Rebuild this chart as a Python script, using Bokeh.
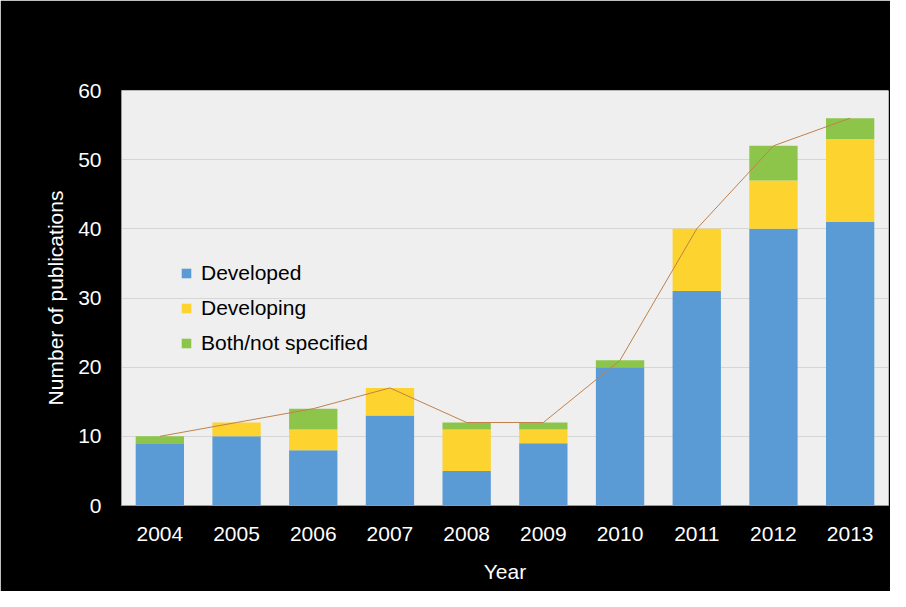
from bokeh.plotting import figure
from bokeh.models import FactorRange, Range1d, Legend, LegendItem, FixedTicker, ColumnDataSource
from bokeh.embed import file_html
from bokeh.resources import INLINE

years = ["2004", "2005", "2006", "2007", "2008", "2009", "2010", "2011", "2012", "2013"]
developed = [9, 10, 8, 13, 5, 9, 20, 31, 40, 41]
developing = [0, 2, 3, 4, 6, 2, 0, 9, 7, 12]
both = [1, 0, 3, 0, 1, 1, 1, 0, 5, 3]
totals = [10, 12, 14, 17, 12, 12, 21, 40, 52, 56]
y_ticks = [0, 10, 20, 30, 40, 50, 60]

series = ["developed", "developing", "both"]
labels = ["Developed", "Developing", "Both/not specified"]
colors = ["#5b9bd5", "#fdd32f", "#8dc54a"]

src = ColumnDataSource(dict(years=years, developed=developed, developing=developing,
                            both=both, totals=totals))

FONT = "Liberation Sans"

p = figure(width=890, height=591, x_range=FactorRange(*years, range_padding=0),
           y_range=Range1d(0, 60), output_backend="svg", toolbar_location=None,
           min_border_left=121, min_border_right=2, min_border_top=90, min_border_bottom=86)

p.background_fill_color = "#efefef"
p.border_fill_color = "#000000"
p.outline_line_color = None

renderers = p.vbar_stack(series, x="years", width=0.63, color=colors, source=src, line_color=None)
p.line(x="years", y="totals", source=src, line_color="#c0814a", line_width=1)

legend = Legend(items=[LegendItem(label=l, renderers=[r]) for l, r in zip(labels, renderers)],
                location=(59, 150), background_fill_alpha=0, border_line_color=None,
                label_text_font=FONT, label_text_font_size="21px", label_text_color="#000000",
                glyph_width=12, glyph_height=12, label_height=20, spacing=11,
                padding=5, margin=0, label_standoff=9)
p.add_layout(legend)

p.xgrid.grid_line_color = None
p.ygrid.grid_line_color = "#d6d6d6"
p.ygrid.ticker = FixedTicker(ticks=y_ticks)
p.yaxis.ticker = FixedTicker(ticks=y_ticks)

for ax in (p.xaxis[0], p.yaxis[0]):
    ax.axis_line_color = "#9a9a9a"
    ax.major_tick_line_color = None
    ax.minor_tick_line_color = None
    ax.major_tick_out = 0
    ax.major_tick_in = 0
    ax.major_label_text_color = "#ffffff"
    ax.major_label_text_font = FONT
    ax.major_label_text_font_size = "21px"
    ax.axis_label_text_color = "#ffffff"
    ax.axis_label_text_font = FONT
    ax.axis_label_text_font_size = "21px"
    ax.axis_label_text_font_style = "normal"

p.xaxis.axis_label = "Year"
p.yaxis.axis_label = "Number of publications"
p.xaxis.major_label_standoff = 21
p.yaxis.major_label_standoff = 20
p.xaxis.axis_label_standoff = 16
p.yaxis.axis_label_standoff = 8

open("out.html", "w").write(file_html(p, INLINE))
